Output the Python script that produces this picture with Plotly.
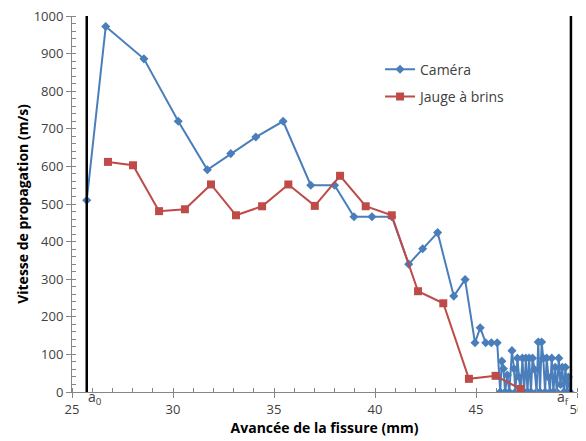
import plotly.graph_objects as go

# Caméra (mm, m/s)
cam_x = [25.73, 26.67, 28.56, 30.26, 31.70, 32.86, 34.10, 35.45, 36.82, 38.00,
         38.96, 39.85, 40.83, 41.67, 42.36, 43.10, 43.90, 44.46, 44.95, 45.21,
         45.48, 45.76, 46.05,
         46.20, 46.28, 46.36, 46.44, 46.55, 46.65, 46.78, 46.88, 46.95, 47.05,
         47.13, 47.20, 47.30, 47.38, 47.47, 47.55, 47.63, 47.72, 47.80, 47.90,
         48.00, 48.08, 48.17, 48.25, 48.33, 48.42, 48.50, 48.58, 48.66, 48.75,
         48.83, 48.92, 49.00, 49.10, 49.18, 49.27, 49.35, 49.43, 49.50, 49.57,
         49.65]
cam_v = [510, 972, 886, 720, 591, 634, 678, 720, 550, 550,
         466, 466, 466, 340, 381, 424, 255, 299, 131, 171,
         131, 131, 131,
         0, 82, 62, 0, 45, 0, 110, 62, 0, 90,
         40, 0, 90, 0, 90, 0, 90, 0, 90, 60,
         0, 133, 0, 133, 90, 0, 90, 40, 0, 90,
         0, 66, 0, 90, 20, 66, 0, 66, 0, 40,
         0]

# Jauge à brins
jauge_x = [26.78, 28.02, 29.31, 30.59, 31.88, 33.12, 34.41, 35.71, 37.02, 38.27,
           39.54, 40.83, 42.13, 43.38, 44.65, 45.97, 47.21]
jauge_v = [612, 603, 481, 486, 552, 470, 494, 552, 495, 575,
           494, 470, 268, 236, 35, 43, 8]

a0 = 25.73
af = 49.70

blue = "#4A7EBB"
red = "#BE4B48"
grey_txt = "#404040"

fig = go.Figure()
fig.add_trace(go.Scatter(x=cam_x, y=cam_v, mode="lines+markers", name="Caméra",
                         legendgroup="a",
                         line=dict(color=blue, width=2),
                         marker=dict(symbol="diamond", size=7, color=blue)))
fig.add_trace(go.Scatter(x=jauge_x, y=jauge_v, mode="lines+markers", name="Jauge à brins",
                         legendgroup="b",
                         line=dict(color=red, width=2),
                         marker=dict(symbol="square", size=8, color=red)))

# lignes a0 / af
for xv in [a0, af]:
    fig.add_shape(type="line", x0=xv, x1=xv, y0=0, y1=1, xref="x", yref="paper",
                  line=dict(color="black", width=2.5))

fig.add_annotation(x=a0, y=0, xref="x", yref="paper", text="a<sub>0</sub>",
                   showarrow=False, yshift=-18, xshift=8,
                   font=dict(family="Open Sans", size=14, color=grey_txt))
fig.add_annotation(x=af, y=0, xref="x", yref="paper", text="a<sub>f</sub>",
                   showarrow=False, yshift=-18, xshift=-8,
                   font=dict(family="Open Sans", size=14, color=grey_txt))

# la page a une marge de 8 px autour du graphique
fig.update_layout(
    width=578, height=433,
    margin=dict(l=64, r=9, t=8, b=49),
    plot_bgcolor="white", paper_bgcolor="white",
    font=dict(family="Open Sans", color=grey_txt),
    showlegend=True,
    legend=dict(x=0.61, y=0.9, xanchor="left", yanchor="top",
                bgcolor="rgba(0,0,0,0)", tracegroupgap=6,
                font=dict(size=14, color=grey_txt)),
)
fig.update_xaxes(range=[25, 50], dtick=5, tick0=25, showgrid=False, zeroline=False,
                 showline=True, linecolor="#868686", linewidth=1,
                 ticks="outside", ticklen=5, tickcolor="#868686",
                 minor=dict(dtick=1, ticks="inside", ticklen=4, tickcolor="#868686"),
                 tickfont=dict(size=13, color=grey_txt), automargin=False,
                 ticklabeloverflow="allow",
                 title=dict(text="<b>Avancée de la fissure (mm)</b>", standoff=6,
                            font=dict(size=14, color="black")))
fig.update_yaxes(range=[0, 1000], dtick=100, showgrid=False, zeroline=False,
                 showline=True, linecolor="#868686", linewidth=1,
                 ticks="outside", ticklen=5, tickcolor="#868686",
                 minor=dict(dtick=20, ticks="inside", ticklen=4, tickcolor="#868686"),
                 tickfont=dict(size=13, color=grey_txt), automargin=False,
                 ticklabeloverflow="allow",
                 title=dict(text="<b>Vitesse de propagation (m/s)</b>", standoff=1,
                            font=dict(size=14, color="black")))

fig.write_html("out.html")
